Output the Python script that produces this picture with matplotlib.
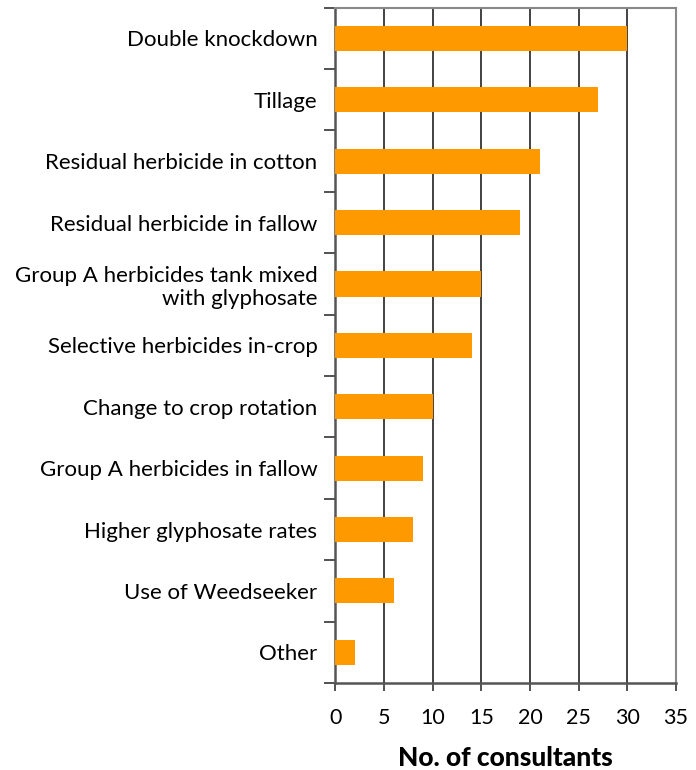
import numpy as np
import matplotlib.pyplot as plt
from matplotlib.ticker import FixedLocator

plt.rcParams['font.family'] = ['Lato', 'DejaVu Sans']

# Datos (de arriba hacia abajo)
categorias = [
    'Double knockdown',
    'Tillage',
    'Residual herbicide in cotton',
    'Residual herbicide in fallow',
    'Group A herbicides tank mixed\nwith glyphosate',
    'Selective herbicides in-crop',
    'Change to crop rotation',
    'Group A herbicides in fallow',
    'Higher glyphosate rates',
    'Use of Weedseeker',
    'Other',
]
consultores = [30, 27, 21, 19, 15, 14, 10, 9, 8, 6, 2]
xticks = [0, 5, 10, 15, 20, 25, 30, 35]

n = len(categorias)
y = np.arange(n)

fig = plt.figure(figsize=(6.96, 7.7), dpi=100)
ax = fig.add_axes([0.482, 0.113, 0.489, 0.877])

ax.barh(y, consultores, height=0.41, color='#FF9900', zorder=3)

ax.set_xlim(0, 35)
ax.set_ylim(n - 0.5, -0.5)

# lineas verticales de la rejilla
for xv in xticks[1:-1]:
    ax.axvline(xv, color='#222222', lw=1.2, zorder=1)

ax.set_xticks(xticks)
ax.set_xticklabels([str(v) for v in xticks], fontsize=15.5)
ax.tick_params(axis='x', direction='out', length=6, width=1.2, color='#333333', pad=12)

ax.set_yticks(y)
ax.set_yticklabels(categorias, fontsize=16, ha='right')
ax.tick_params(axis='y', length=0, pad=13)
ax.yaxis.set_minor_locator(FixedLocator(np.arange(-0.5, n, 1.0)))
ax.tick_params(axis='y', which='minor', direction='out', length=8, width=1.2, color='#333333')

for s in ['left', 'bottom']:
    ax.spines[s].set_color('#555555')
    ax.spines[s].set_linewidth(1.8)
for s in ['top', 'right']:
    ax.spines[s].set_color('#888888')
    ax.spines[s].set_linewidth(1.5)

ax.set_xlabel('No. of consultants', fontsize=19, fontweight='black', labelpad=13)

fig.savefig('out.png', dpi=100)
